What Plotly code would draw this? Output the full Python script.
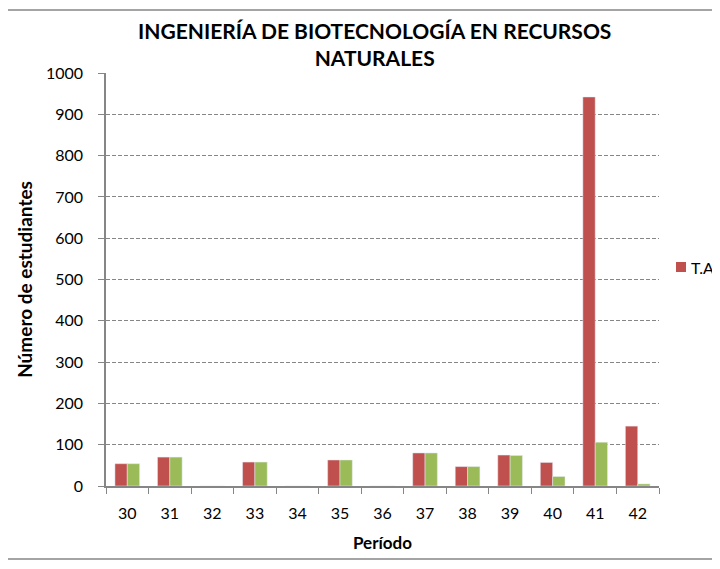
import plotly.graph_objects as go

periodos = ["30", "31", "32", "33", "34", "35", "36", "37", "38", "39", "40", "41", "42"]
ta = [54, 70, 0, 58, 0, 63, 0, 80, 47, 75, 57, 942, 145]
tr = [54, 70, 0, 58, 0, 63, 0, 80, 47, 74, 23, 106, 5]

FONT = "Lato"
GRAY = "#868686"
ROJO, VERDE = "#C0504D", "#9BBB59"

# la pagina tiene un margen de 8px; figura mas pequena para evitar barras de scroll
W, H = 712, 553
L, R, T, B = 98, 61, 65, 75
pw, ph = W - L - R, H - T - B


def px_x(v):
    return (v - L) / pw


def px_y(v):
    return 1 - (v - T) / ph


fig = go.Figure()
fig.add_trace(go.Bar(x=periodos, y=ta, name="T.A", marker_color=ROJO, showlegend=False))
fig.add_trace(go.Bar(x=periodos, y=tr, name="T.R", marker_color=VERDE, showlegend=False))

fig.update_layout(
    width=W, height=H,
    margin=dict(l=L, r=R, t=T, b=B, autoexpand=False),
    paper_bgcolor="white", plot_bgcolor="white",
    font=dict(family=FONT, size=16, color="black"),
    barmode="group", bargap=0.42, bargroupgap=0,
)

# titulo como anotacion para controlar la posicion
fig.add_annotation(
    text="<b>INGENIERÍA DE BIOTECNOLOGÍA EN RECURSOS<br>NATURALES</b>",
    xref="paper", yref="paper",
    x=px_x(366), y=px_y(36),
    xanchor="center", yanchor="middle", showarrow=False,
    font=dict(family=FONT, size=21),
)

# leyenda (solo T.A, como en el original)
fig.add_shape(type="rect", xref="paper", yref="paper",
              x0=px_x(668), x1=px_x(678), y0=px_y(264), y1=px_y(254),
              fillcolor=ROJO, line=dict(width=0))
fig.add_annotation(text="T.A", xref="paper", yref="paper",
                   x=px_x(681), y=px_y(259), xanchor="left", yanchor="middle",
                   showarrow=False, font=dict(size=16))

fig.update_xaxes(
    type="category", showline=True, linecolor=GRAY, linewidth=1.5,
    ticks="outside", tickson="boundaries", ticklen=6, tickcolor=GRAY,
    showgrid=False, ticklabelstandoff=12,
    title=dict(text="<b>Período</b>", font=dict(size=17), standoff=16),
)
fig.update_yaxes(
    range=[0, 1000], dtick=100, showline=True, linecolor=GRAY, linewidth=1.5,
    ticks="outside", ticklen=6, tickcolor=GRAY, zeroline=False,
    showgrid=True, gridcolor=GRAY, griddash="4px,2px", gridwidth=1.3,
    ticklabelstandoff=12,
    title=dict(text="<b>Número de estudiantes</b>", font=dict(size=19), standoff=8),
)

# marco exterior del grafico
fig.add_shape(type="rect", xref="paper", yref="paper", layer="above",
              x0=px_x(-1), x1=px_x(706), y0=px_y(551), y1=px_y(2),
              line=dict(color=GRAY, width=1.5))

fig.write_html("out.html")
